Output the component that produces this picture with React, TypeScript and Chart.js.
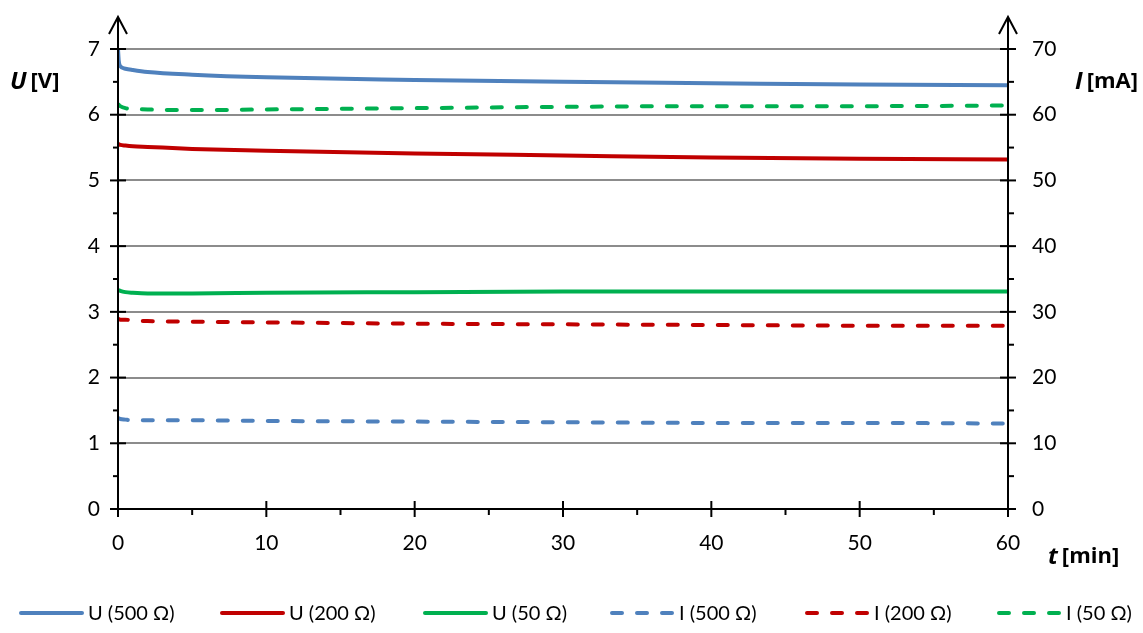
import React, { useEffect, useRef } from "react";
import { Chart, registerables } from "chart.js";

Chart.register(...registerables);

// time in minutes
const timeMin = [0, 0.05, 0.15, 0.5, 1, 2, 5, 10, 20, 30, 40, 50, 60];

// voltages [V]
const u500 = [7.0, 6.82, 6.74, 6.7, 6.68, 6.65, 6.61, 6.57, 6.53, 6.5, 6.48, 6.46, 6.45];
const u200 = [5.56, 5.55, 5.54, 5.53, 5.52, 5.51, 5.48, 5.45, 5.41, 5.38, 5.35, 5.33, 5.32];
const u50 = [3.33, 3.33, 3.32, 3.3, 3.29, 3.28, 3.28, 3.29, 3.3, 3.31, 3.31, 3.31, 3.31];

// currents [mA]
const i500 = [13.8, 13.8, 13.7, 13.6, 13.5, 13.5, 13.5, 13.4, 13.3, 13.2, 13.1, 13.1, 13.0];
const i200 = [28.9, 28.9, 28.8, 28.8, 28.7, 28.6, 28.5, 28.4, 28.2, 28.1, 28.0, 27.9, 27.9];
const i50 = [61.6, 61.5, 61.3, 61.0, 60.9, 60.8, 60.7, 60.8, 61.0, 61.2, 61.3, 61.3, 61.4];

const seriesLabels = ["U (500 Ω)", "U (200 Ω)", "U (50 Ω)", "I (500 Ω)", "I (200 Ω)", "I (50 Ω)"];
const seriesColors = ["#4F81BD", "#C00000", "#00B050", "#4F81BD", "#C00000", "#00B050"];

const FONT = "Lato";
const TITLE_FONT = "'Open Sans'";
const DASH = [10, 15];

const toPts = (vals: number[]) => vals.map((v, i) => ({ x: timeMin[i], y: v }));

const decorPlugin = {
  id: "decor",
  afterDraw(chart: any) {
    const ctx: CanvasRenderingContext2D = chart.ctx;
    const xs = chart.scales.x;
    const ys = chart.scales.y;
    const y1 = chart.scales.y1;
    const L = xs.left;
    const R = xs.right;
    const B = ys.bottom;
    const T = ys.top;
    ctx.save();
    ctx.strokeStyle = "#000";
    ctx.lineWidth = 2;
    ctx.lineCap = "butt";
    const line = (x1: number, yA: number, x2: number, yB: number) => {
      ctx.beginPath();
      ctx.moveTo(x1, yA);
      ctx.lineTo(x2, yB);
      ctx.stroke();
    };
    // axis lines
    line(L, B + 1, L, T - 32);
    line(R, B + 1, R, T - 32);
    line(L - 8, B, R + 8, B);
    // arrows
    [L, R].forEach((x) => {
      ctx.beginPath();
      ctx.moveTo(x - 9, T - 15);
      ctx.lineTo(x, T - 32);
      ctx.lineTo(x + 9, T - 15);
      ctx.stroke();
    });
    // y ticks
    for (let v = 0; v <= 7; v++) {
      const y = ys.getPixelForValue(v);
      line(L - 8, y, L + 8, y);
      if (v < 7) {
        const ym = ys.getPixelForValue(v + 0.5);
        line(L - 5, ym, L, ym);
      }
    }
    for (let v = 0; v <= 70; v += 10) {
      const y = y1.getPixelForValue(v);
      line(R - 8, y, R + 8, y);
      if (v < 70) {
        const ym = y1.getPixelForValue(v + 5);
        line(R, ym, R + 6, ym);
      }
    }
    for (let v = 0; v <= 60; v += 10) {
      const x = xs.getPixelForValue(v);
      line(x, B - 8, x, B + 8);
      if (v < 60) {
        const xm = xs.getPixelForValue(v + 5);
        line(xm, B, xm, B + 6);
      }
    }
    // axis titles
    ctx.fillStyle = "#000";
    ctx.textBaseline = "middle";
    ctx.textAlign = "left";
    const title = (x: number, y: number, sym: string, unit: string) => {
      ctx.font = `italic bold 24px ${TITLE_FONT}`;
      ctx.fillText(sym, x, y);
      const w = ctx.measureText(sym).width;
      ctx.font = `bold 22px ${TITLE_FONT}`;
      ctx.fillText(unit, x + w + 4, y);
    };
    title(10, ys.getPixelForValue(6.5), "U", "[V]");
    title(1075, y1.getPixelForValue(65), "I", "[mA]");
    title(1048, 557, "t", "[min]");
    // legend
    const legendY = 613;
    const starts = [19, 220, 423, 610, 805, 997];
    ctx.font = `20px ${FONT}`;
    ctx.lineWidth = 4;
    ctx.lineCap = "round";
    seriesLabels.forEach((lab, i) => {
      const x0 = starts[i];
      ctx.strokeStyle = seriesColors[i];
      ctx.setLineDash(i >= 3 ? DASH : []);
      ctx.beginPath();
      ctx.moveTo(x0 + 2, legendY);
      ctx.lineTo(x0 + 63, legendY);
      ctx.stroke();
      ctx.setLineDash([]);
      ctx.fillStyle = "#000";
      ctx.fillText(lab, x0 + 69, legendY + 1);
    });
    ctx.restore();
  },
};

export default function App() {
  const ref = useRef<HTMLCanvasElement | null>(null);
  useEffect(() => {
    document.body.style.margin = "0";
    if (!ref.current) return;
    const mk = (i: number, vals: number[], axis: string) => ({
      label: seriesLabels[i],
      data: toPts(vals),
      yAxisID: axis,
      borderColor: seriesColors[i],
      backgroundColor: seriesColors[i],
      borderWidth: 4,
      borderDash: i >= 3 ? DASH : [],
      borderCapStyle: "round" as const,
      pointRadius: 0,
      cubicInterpolationMode: "monotone" as const,
      fill: false,
    });
    const chart = new Chart(ref.current, {
      type: "line",
      data: {
        datasets: [
          mk(0, u500, "y"),
          mk(1, u200, "y"),
          mk(2, u50, "y"),
          mk(3, i500, "y1"),
          mk(4, i200, "y1"),
          mk(5, i50, "y1"),
        ],
      },
      options: {
        animation: false,
        responsive: true,
        maintainAspectRatio: false,
        layout: { padding: { top: 49, left: 0, right: 0, bottom: 0 } },
        plugins: { legend: { display: false }, tooltip: { enabled: false } },
        scales: {
          x: {
            type: "linear",
            min: 0,
            max: 60,
            ticks: { stepSize: 10, padding: 22, color: "#000", font: { family: FONT, size: 21 }, maxRotation: 0 },
            grid: { display: false, drawTicks: false },
            border: { display: false },
            afterFit: (s: any) => {
              s.height = 124;
            },
          },
          y: {
            type: "linear",
            position: "left",
            min: 0,
            max: 7,
            ticks: { stepSize: 1, padding: 18, color: "#000", font: { family: FONT, size: 21 } },
            grid: { color: "#8c8c8c", lineWidth: 2, drawTicks: false },
            border: { display: false },
            afterFit: (s: any) => {
              s.width = 118;
            },
          },
          y1: {
            type: "linear",
            position: "right",
            min: 0,
            max: 70,
            ticks: { stepSize: 10, padding: 24, color: "#000", font: { family: FONT, size: 21 } },
            grid: { display: false, drawTicks: false },
            border: { display: false },
            afterFit: (s: any) => {
              s.width = 135;
            },
          },
        },
      },
      plugins: [decorPlugin],
    });
    return () => chart.destroy();
  }, []);
  return (
    <div style={{ width: 1143, height: 633, position: "relative" }}>
      <canvas ref={ref} />
    </div>
  );
}
